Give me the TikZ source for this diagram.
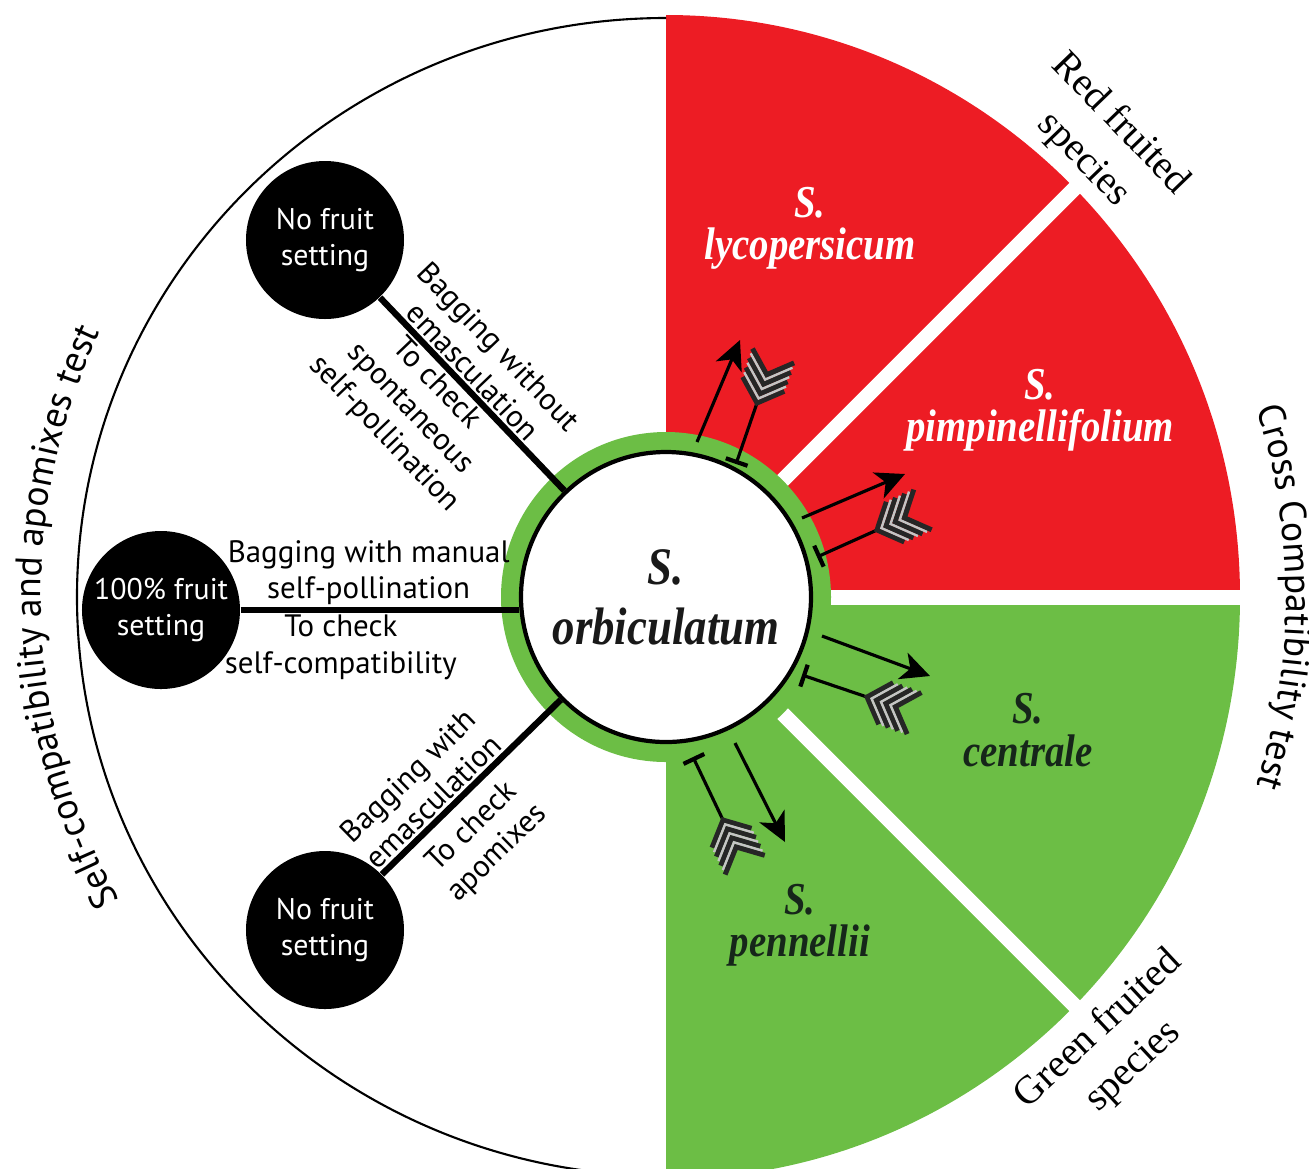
\documentclass[tikz,border=0pt]{standalone}
\usepackage{fontspec}
\setmainfont{PT Sans}
\newfontfamily\spfont{Liberation Serif}[FakeStretch=0.85]
\newfontfamily\capfont{Liberation Serif}
\usetikzlibrary{arrows.meta, decorations.text}

\definecolor{tomred}{HTML}{ED1C24}
\definecolor{tomgreen}{HTML}{6CBE45}
\definecolor{leafink}{HTML}{16261A}
\definecolor{quilldark}{HTML}{262626}
\definecolor{quilllight}{HTML}{C4C4C4}

\tikzset{
    outcome/.style={circle, fill=black, text=white, minimum size=1.58cm, inner sep=0pt, align=center, font=\fontsize{8.5}{10.5}\selectfont},
    treat/.style={align=center, font=\fontsize{8.8}{10.3}\selectfont, inner sep=0.6pt},
    stem/.style={line width=1.8pt},
    species/.style={align=center, font=\spfont\bfseries\itshape\fontsize{13}{12}\selectfont},
    group/.style={align=center, font=\capfont\fontsize{11.3}{14.5}\selectfont},
    cross/.style={line width=0.9pt, -{Stealth[length=2.9mm, width=2.8mm, inset=0.8mm]}},
    barred/.style={line width=0.9pt, {Bar[width=2.3mm, line width=1.2pt]}-},
    quill/.pic={
        \foreach \k in {0,1,2} {
            \draw[quilldark, line width=1.4pt, miter limit=20] (\k*0.1+0.2, 0.22) -- (\k*0.1, 0) -- (\k*0.1+0.2, -0.22);
            \draw[quilllight, line width=0.75pt, miter limit=20] (\k*0.1+0.25, 0.22) -- (\k*0.1+0.05, 0) -- (\k*0.1+0.25, -0.22);
        }
        \draw[quilldark, line width=1.4pt, miter limit=20] (0.5, 0.22) -- (0.3, 0) -- (0.5, -0.22);
    }
}

\begin{document}
\begin{tikzpicture}
    \useasboundingbox (-6.66,-5.71) rectangle (6.43,5.97);

    \fill[tomred] (0,0) -- (0,5.82) arc[start angle=90, end angle=0, x radius=5.74, y radius=5.82] -- cycle;
    \fill[tomgreen] (0,0) -- (5.74,0) arc[start angle=0, end angle=-90, x radius=5.74, y radius=5.82] -- cycle;
    \draw[white, line width=0.15cm] (0,0) -- (45:6.5);
    \draw[white, line width=0.15cm] (0,0) -- (6.2,0);
    \draw[white, line width=0.15cm] (0,0) -- (-45:6.5);

    \draw[line width=0.6pt] (0,5.79) arc[start angle=90, end angle=270, x radius=5.89, y radius=5.79];

    \fill[tomgreen] (0,0) circle[radius=1.65];
    \node[circle, draw, line width=1.2pt, fill=white, minimum size=2.9cm, inner sep=0pt, align=center, text=black!90, font=\spfont\bfseries\itshape\fontsize{15}{17}\selectfont] (orb) at (0,0) {S.\\orbiculatum};

    \node[outcome] (topnf) at (-3.41,3.57) {No fruit\\setting};
    \node[outcome] (full) at (-5.05,-0.13) {100\% fruit\\setting};
    \node[outcome] (lownf) at (-3.41,-3.33) {No fruit\\setting};

    \draw[stem] (topnf) -- (orb)
        node[treat, pos=0.44, sloped, above] {Bagging without\\emasculation}
        node[treat, pos=0.38, sloped, below] {To check\\spontaneous\\self-pollination};
    \draw[stem] (full.east) -- (full.east -| orb.west)
        node[treat, pos=0.46, above] {Bagging with manual\\self-pollination}
        node[treat, pos=0.36, below] {To check\\self-compatibility};
    \draw[stem] (lownf) -- (orb)
        node[treat, pos=0.35, sloped, above] {Bagging with\\emasculation}
        node[treat, pos=0.39, sloped, below=3pt] {To check\\apomixes};

    \coordinate (lyA) at (0.31,1.55);
    \coordinate (lyB) at (0.74,2.57);
    \coordinate (lyC) at (0.70,1.33);
    \coordinate (lyD) at (0.91,1.94);
    \coordinate (piA) at (1.36,0.79);
    \coordinate (piB) at (2.39,1.23);
    \coordinate (piC) at (1.51,0.40);
    \coordinate (piD) at (2.11,0.67);
    \coordinate (ceA) at (1.56,-0.39);
    \coordinate (ceB) at (2.64,-0.79);
    \coordinate (ceC) at (1.36,-0.78);
    \coordinate (ceD) at (2.01,-1.00);
    \coordinate (peA) at (0.69,-1.46);
    \coordinate (peB) at (1.19,-2.45);
    \coordinate (peC) at (0.27,-1.60);
    \coordinate (peD) at (0.57,-2.23);

    \draw[cross] (lyA) -- (lyB);
    \draw[barred] (lyC) -- (lyD);
    \pic[rotate=71] at (lyD) {quill};
    \draw[cross] (piA) -- (piB);
    \draw[barred] (piC) -- (piD);
    \pic[rotate=24] at (piD) {quill};
    \draw[cross] (ceA) -- (ceB);
    \draw[barred] (ceC) -- (ceD);
    \pic[rotate=-19] at (ceD) {quill};
    \draw[cross] (peA) -- (peB);
    \draw[barred] (peC) -- (peD);
    \pic[rotate=-64] at (peD) {quill};

    \node[species, text=white] (lyco) at (1.44,3.69) {S.\\lycopersicum};
    \node[species, text=white] (pimp) at (3.74,1.87) {S.\\pimpinellifolium};
    \node[species, text=leafink] (cent) at (3.62,-1.33) {S.\\centrale};
    \node[species, text=leafink] (penn) at (1.34,-3.28) {S.\\pennellii};

    \node[group, rotate=-46] (redsp) at (4.36,4.55) {Red fruited\\species};
    \node[group, rotate=43] (greensp) at (4.50,-4.51) {Green fruited\\species};

    \path[decorate, decoration={text along path, text align=center, text={|\fontsize{10.7}{13}\selectfont|Self-compatibility and apomixes test}}] (242:6.25) arc[start angle=242, end angle=122, radius=6.25];
    \path[decorate, decoration={text along path, text align=center, text={|\fontsize{10.7}{13}\selectfont|Cross Compatibility test}}] (60:6.2) arc[start angle=60, end angle=-60, radius=6.2];
\end{tikzpicture}
\end{document}
